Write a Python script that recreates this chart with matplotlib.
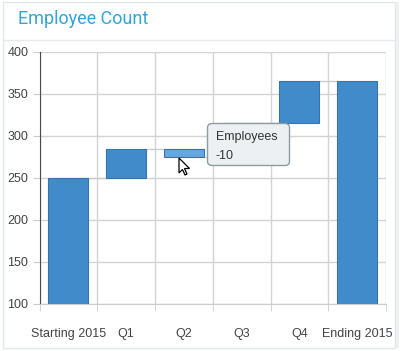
import matplotlib
matplotlib.use("Agg")
import matplotlib.pyplot as plt
from matplotlib.patches import Rectangle, FancyBboxPatch, Polygon
import numpy as np

categories = ["Starting 2015", "Q1", "Q2", "Q3", "Q4", "Ending 2015"]
changes = [250, 35, -10, 40, 50, None]   # None = running total
y_ticks = [100, 150, 200, 250, 300, 350, 400]
title = "Employee Count"
tooltip_series = "Employees"
tooltip_value = "-10"
hover_index = 2

plt.rcParams["font.family"] = ["Liberation Sans", "DejaVu Sans"]

W, H = 401, 351
fig = plt.figure(figsize=(W / 100, H / 100), dpi=100)
fig.patch.set_facecolor("white")

# panel frame
fig.add_artist(Rectangle((3.5 / W, 1 - 347.5 / H), 391 / W, 346 / H, transform=fig.transFigure,
                         facecolor="none", edgecolor="#e3e6e8", lw=1))
fig.add_artist(Rectangle((395.5 / W, 1 - 347.5 / H), 3 / W, 346 / H, transform=fig.transFigure,
                         facecolor="#eef0f2", edgecolor="none"))
fig.add_artist(plt.Line2D([3.5 / W, 395 / W], [1 - 39.5 / H] * 2, transform=fig.transFigure,
                          color="#e6e9eb", lw=1))
fig.text(18 / W, 1 - 19 / H, title, fontsize=13, color="#31a5da", va="center", ha="left",
         family="Roboto")

ax = fig.add_axes([39.5 / W, 47 / H, 346.5 / W, 252 / H])
x = np.arange(len(categories))

# compute waterfall
bottoms, heights, tops = [], [], []
total = 0
for c in changes:
    if c is None:
        bottoms.append(0); heights.append(total)
    else:
        if c >= 0:
            bottoms.append(total); heights.append(c)
        else:
            bottoms.append(total + c); heights.append(-c)
        total += c
    tops.append(total)

colors = ["#428bca"] * len(categories)
colors[hover_index] = "#6aa5da"
ax.bar(x, heights, bottom=bottoms, width=0.69, color=colors, edgecolor="#3574ad",
       linewidth=0.8, zorder=3)

# connectors
for i in range(len(categories) - 1):
    ax.plot([x[i] + 0.345, x[i + 1] - 0.345], [tops[i], tops[i]], color="#cccccc", lw=1, zorder=2)

ax.set_xlim(-0.5, len(categories) - 0.5)
ax.set_ylim(100, 400)
ax.set_yticks(y_ticks)
ax.set_xticks(x)
ax.set_xticklabels(categories)
ax.set_xticks(np.arange(-0.5, len(categories)), minor=True)
ax.tick_params(axis="x", which="major", length=0, pad=17, labelsize=9, labelcolor="#444444")
ax.tick_params(axis="x", which="minor", length=5, color="#cccccc", direction="out")
ax.tick_params(axis="y", length=5, color="#cccccc", labelsize=9, labelcolor="#444444", pad=3)
ax.grid(True, axis="y", color="#d3d3d3", lw=1, zorder=0)
ax.grid(True, axis="x", which="minor", color="#d3d3d3", lw=1, zorder=0)
for s in ["top", "right"]:
    ax.spines[s].set_visible(False)
ax.spines["left"].set_color("#4a4a4a")
ax.spines["bottom"].set_color("#cccccc")
ax.set_axisbelow(True)

# tooltip
tx0, ty0, tw, th = 207.5, 123.5, 82, 42
fig.add_artist(FancyBboxPatch((tx0 / W, 1 - (ty0 + th) / H), tw / W, th / H,
                              boxstyle="round,pad=0,rounding_size=0.012",
                              transform=fig.transFigure, facecolor="#edf0f2",
                              edgecolor="#8d9ba4", lw=1, zorder=10))
fig.text(216 / W, 1 - 137 / H, tooltip_series, fontsize=9, color="#333333", va="center",
         zorder=11)
fig.text(216 / W, 1 - 156 / H, tooltip_value, fontsize=9, color="#333333", va="center",
         zorder=11)

# mouse cursor
cur = np.array([(0, 0), (0, 15), (3.5, 11.5), (6, 17), (8, 16), (5.5, 10.5), (10.5, 10.5)])
cx, cy = 179, 158
pts = [((cx + px) / W, 1 - (cy + py) / H) for px, py in cur]
fig.add_artist(Polygon(pts, closed=True, transform=fig.transFigure, facecolor="white",
                       edgecolor="black", lw=0.9, zorder=12))

fig.savefig("out.png", dpi=100)
